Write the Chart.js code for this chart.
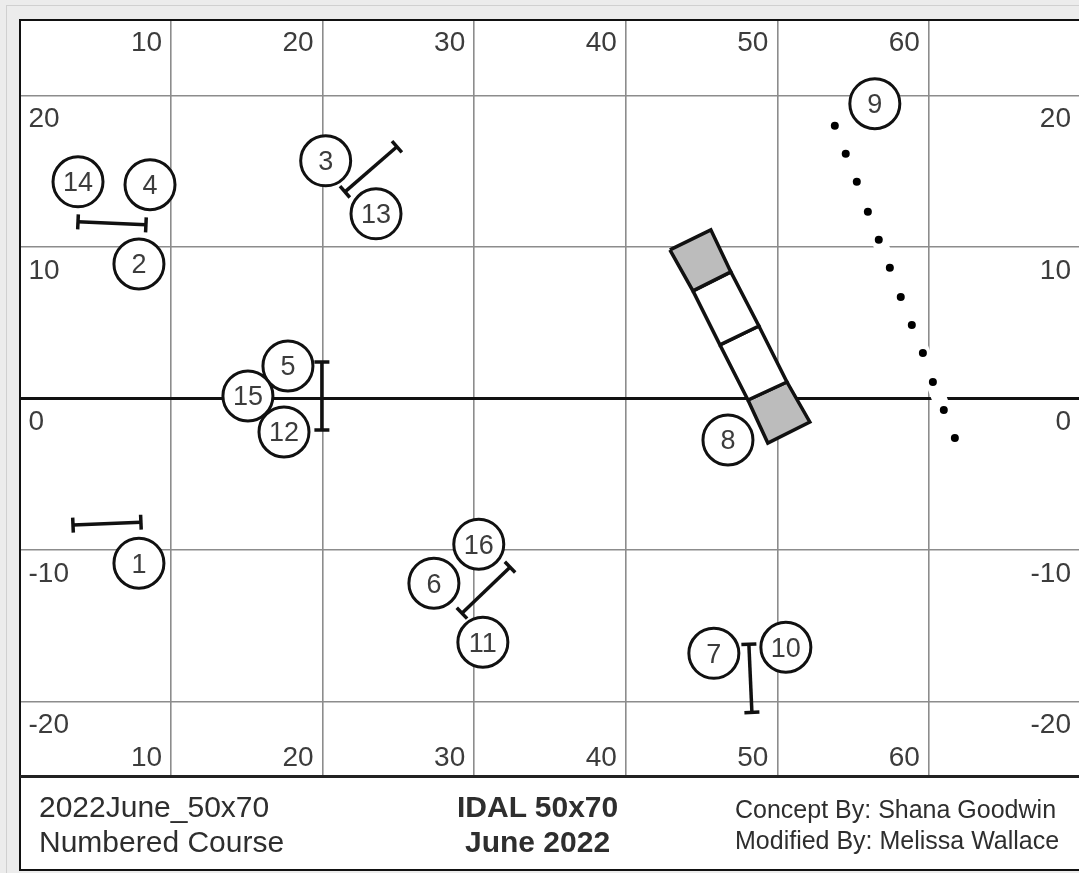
<!DOCTYPE html>
<html>
<head>
<meta charset="utf-8">
<title>IDAL 50x70 June 2022</title>
<script src="https://cdn.jsdelivr.net/npm/chart.js@4"></script>
<style>
  html, body { margin: 0; padding: 0; width: 1079px; height: 873px; overflow: hidden; background: #ececec; }
  body { font-family: "Liberation Sans", Arial, sans-serif; }
  #outer { position: absolute; left: 6px; top: 5px; width: 1073px; height: 868px; border-left: 1px solid #d0d0d0; border-top: 1px solid #d0d0d0; box-sizing: border-box; }
  #panel { position: absolute; left: 20px; top: 20px; width: 1059px; height: 850px; background: #fff; }
  canvas { position: absolute; left: 0; top: 0; filter: blur(0.5px); }
  #frame { position: absolute; left: 19px; top: 19px; width: 1065px; height: 852px; border: 2px solid #111; box-sizing: border-box; }
  #rule { position: absolute; left: 20px; top: 775px; width: 1059px; height: 3px; background: #222; }
  .foot { position: absolute; color: #2e2e2e; white-space: nowrap; line-height: 1; filter: blur(0.5px); }
</style>
</head>
<body>
<div id="outer"></div>
<div id="panel"></div>
<canvas id="course" width="1079" height="873"></canvas>
<div id="frame"></div>
<div id="rule"></div>
<div class="foot" style="left:39px;top:792px;font-size:30px">2022June_50x70</div>
<div class="foot" style="left:39px;top:827px;font-size:30px">Numbered Course</div>
<div class="foot" style="left:457px;top:792px;font-size:30px;font-weight:bold">IDAL 50x70</div>
<div class="foot" style="left:465px;top:827px;font-size:30px;font-weight:bold">June 2022</div>
<div class="foot" style="left:735px;top:797px;font-size:25px">Concept By: Shana Goodwin</div>
<div class="foot" style="left:735px;top:828px;font-size:25px">Modified By: Melissa Wallace</div>
<script>
// axis ticks
const xTicks = [10, 20, 30, 40, 50, 60];
const yTicks = [20, 10, 0, -10, -20];

// numbered obstacles
const numberLabels = ["1", "2", "3", "4", "5", "6", "7", "8", "9", "10", "11", "12", "13", "14", "15", "16"];
const numberX = [7.88, 7.88, 20.2, 8.61, 17.71, 27.34, 45.81, 46.74, 56.43, 50.56, 30.57, 17.45, 23.52, 3.86, 15.07, 30.3];
const numberY = [-10.88, 8.89, 15.7, 14.12, 2.15, -12.2, -16.83, -2.74, 19.47, -16.43, -16.1, -2.21, 12.2, 14.31, 0.17, -9.62];

// jumps, start and end of each bar
const jumpStartX = [3.86, 21.47, 19.95, 3.53, 32.36, 48.12];
const jumpStartY = [11.67, 13.65, 2.41, -8.36, -11.14, -16.23];
const jumpEndX = [8.34, 24.9, 19.95, 8.01, 29.19, 48.32];
const jumpEndY = [11.47, 16.63, -2.08, -8.17, -14.18, -20.73];

// dotted line by number 9
const dotX = [53.79, 54.51, 55.24, 55.97, 56.69, 57.42, 58.14, 58.87, 59.6, 60.26, 60.98, 61.71];
const dotY = [18.02, 16.17, 14.31, 12.33, 10.48, 8.63, 6.71, 4.86, 3.01, 1.09, -0.76, -2.61];

// the long box, two edges and the dividers between cells
const boxLeftX = [42.91, 44.43, 46.21, 48.06, 49.37];
const boxLeftY = [9.82, 7.11, 3.54, -0.1, -2.94];
const boxRightX = [45.61, 46.93, 48.78, 50.63, 52.14];
const boxRightY = [11.14, 8.36, 4.79, 1.09, -1.55];
const boxCellColors = ["#bcbcbc", "#ffffff", "#ffffff", "#bcbcbc"];

const zip = (xs, ys) => xs.map((x, i) => ({ x, y: ys[i] }));

// first dataset ends up on top, so circles go first
const datasets = [];

datasets.push({
  data: zip(numberX, numberY),
  showLine: false,
  pointRadius: 25,
  pointBackgroundColor: "#fff",
  pointBorderColor: "#111",
  pointBorderWidth: 3,
});

datasets.push({
  data: zip(dotX, dotY),
  showLine: false,
  pointRadius: 4,
  pointBackgroundColor: "#000",
  pointBorderWidth: 0,
});

// white band under the dots, it breaks the grid lines there
datasets.push({
  data: zip(dotX, dotY),
  showLine: true,
  borderColor: "#fff",
  borderWidth: 15,
  pointRadius: 0,
});

jumpStartX.forEach((x, i) => {
  const dx = jumpEndX[i] - x;
  const dy = jumpEndY[i] - jumpStartY[i];
  datasets.push({
    data: [
      { x, y: jumpStartY[i] },
      { x: jumpEndX[i], y: jumpEndY[i] },
    ],
    showLine: true,
    borderColor: "#111",
    borderWidth: 3.5,
    pointStyle: "line",
    pointRadius: 7.5,
    pointBorderColor: "#111",
    pointBorderWidth: 3.5,
    pointRotation: (Math.atan2(-dy, dx) * 180) / Math.PI + 90,
  });
});

boxCellColors.forEach((color, i) => {
  datasets.push({
    data: [
      { x: boxLeftX[i], y: boxLeftY[i] },
      { x: boxRightX[i], y: boxRightY[i] },
      { x: boxRightX[i + 1], y: boxRightY[i + 1] },
      { x: boxLeftX[i + 1], y: boxLeftY[i + 1] },
      { x: boxLeftX[i], y: boxLeftY[i] },
    ],
    showLine: true,
    fill: "shape",
    backgroundColor: color,
    borderColor: "#111",
    borderWidth: 3.5,
    pointRadius: 0,
  });
});

// tick labels sit inside the plot and number labels sit in the circles
const labelPlugin = {
  id: "courseLabels",
  afterDatasetsDraw(chart) {
    const { ctx, scales, chartArea } = chart;
    ctx.save();
    ctx.fillStyle = "#3c3c3c";
    ctx.textBaseline = "middle";

    ctx.font = '28px "Liberation Sans"';
    ctx.textAlign = "right";
    xTicks.forEach((v) => {
      const px = scales.x.getPixelForValue(v) - 9;
      ctx.fillText(String(v), px, chartArea.top + 23);
      ctx.fillText(String(v), px, chartArea.bottom - 19);
    });
    yTicks.forEach((v) => {
      const py = scales.y.getPixelForValue(v) + 24;
      ctx.textAlign = "left";
      ctx.fillText(String(v), chartArea.left + 9, py);
      ctx.textAlign = "right";
      ctx.fillText(String(v), chartArea.right - 8, py);
    });

    ctx.font = '27px "Liberation Sans"';
    ctx.textAlign = "center";
    numberLabels.forEach((label, i) => {
      ctx.fillText(label, scales.x.getPixelForValue(numberX[i]), scales.y.getPixelForValue(numberY[i]) + 2);
    });
    ctx.restore();
  },
};

new Chart(document.getElementById("course").getContext("2d"), {
  type: "scatter",
  data: { datasets },
  options: {
    responsive: false,
    animation: false,
    layout: { autoPadding: false, padding: { left: 19.5, top: 20, right: 0, bottom: 96 } },
    plugins: { legend: { display: false }, tooltip: { enabled: false } },
    scales: {
      x: {
        type: "linear",
        min: 0,
        max: 69.9,
        afterBuildTicks: (scale) => {
          scale.ticks = xTicks.map((value) => ({ value }));
        },
        ticks: { display: false },
        border: { display: false },
        grid: { color: "#8c8c8c", lineWidth: 1.6, drawTicks: false },
      },
      y: {
        type: "linear",
        min: -25,
        max: 25,
        afterBuildTicks: (scale) => {
          scale.ticks = yTicks.map((value) => ({ value }));
        },
        ticks: { display: false },
        border: { display: false },
        grid: {
          color: (c) => (c.tick.value === 0 ? "#111" : "#8c8c8c"),
          lineWidth: (c) => (c.tick.value === 0 ? 3 : 1.6),
          drawTicks: false,
        },
      },
    },
  },
  plugins: [labelPlugin],
});
</script>
</body>
</html>
